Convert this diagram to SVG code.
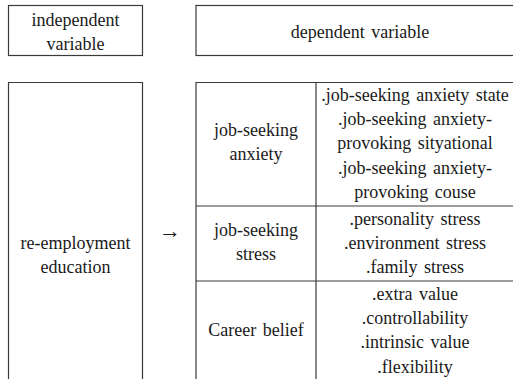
<svg xmlns="http://www.w3.org/2000/svg" width="513" height="379" viewBox="0 0 513 379">
  <style>
    .box { fill: #ffffff; stroke: #3a3a3a; stroke-width: 1.2; }
    .rule { stroke: #3a3a3a; stroke-width: 1.2; fill: none; }
    .t { font-family: "Liberation Serif", "Times New Roman", serif; font-size: 18px; fill: #1a1a1a; text-anchor: middle; word-spacing: 2px; }
    .arrow { font-size: 22px; }
  </style>
  <rect width="513" height="379" fill="#ffffff"/>

  <!-- header: independent variable -->
  <g id="independent-variable">
    <rect class="box" x="8.5" y="5.5" width="134" height="50"/>
    <text class="t" x="75.5" y="26">independent</text>
    <text class="t" x="75.5" y="50">variable</text>
  </g>

  <!-- header: dependent variable -->
  <g id="dependent-variable">
    <rect class="box" x="196" y="5.5" width="330" height="50"/>
    <text class="t" x="360" y="38">dependent variable</text>
  </g>

  <!-- independent: re-employment education -->
  <g id="re-employment-education">
    <path class="rule" d="M8.5 390 V82.5 H142.5 V390"/>
    <text class="t" x="75.5" y="249">re-employment</text>
    <text class="t" x="75.5" y="273">education</text>
  </g>

  <!-- dependent table frame -->
  <g id="dependent-table">
    <path class="rule" d="M196 390 V82.5 H520"/>
    <path class="rule" d="M316 82.5 V390"/>
  </g>

  <g id="job-seeking-anxiety">
    <text class="t" x="256" y="136">job-seeking</text>
    <text class="t" x="256" y="160">anxiety</text>
    <text class="t" x="415" y="101">.job-seeking anxiety state</text>
    <text class="t" x="415" y="125">.job-seeking anxiety-</text>
    <text class="t" x="415" y="149">provoking sityational</text>
    <text class="t" x="415" y="174">.job-seeking anxiety-</text>
    <text class="t" x="415" y="198">provoking couse</text>
  </g>

  <g id="job-seeking-stress">
    <path class="rule" d="M196 206 H520"/>
    <text class="t" x="256" y="236">job-seeking</text>
    <text class="t" x="256" y="260">stress</text>
    <text class="t" x="415" y="225">.personality stress</text>
    <text class="t" x="415" y="249">.environment stress</text>
    <text class="t" x="415" y="273">.family stress</text>
  </g>

  <g id="career-belief">
    <path class="rule" d="M196 281 H520"/>
    <text class="t" x="256" y="336">Career belief</text>
    <text class="t" x="415" y="300">.extra value</text>
    <text class="t" x="415" y="324">.controllability</text>
    <text class="t" x="415" y="348">.intrinsic value</text>
    <text class="t" x="415" y="373">.flexibility</text>
  </g>

  <!-- connector -->
  <g id="connectors">
    <text class="t arrow" x="170" y="238">→</text>
  </g>
</svg>
